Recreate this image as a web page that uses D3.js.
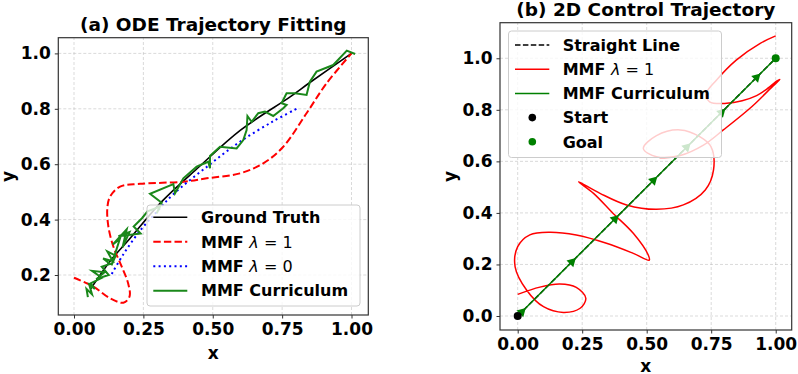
<!DOCTYPE html>
<html><head><meta charset="utf-8">
<script src="https://cdn.jsdelivr.net/npm/d3@7"></script>
<style>
body{margin:0;background:#fff}
text{font-family:"DejaVu Sans",sans-serif;font-weight:bold;fill:#000}
</style>
</head><body><div id="plot"></div><script>
// ---- data, panel (a) ----
var xTicksA = [0, 0.25, 0.5, 0.75, 1.0];
var yTicksA = [0.2, 0.4, 0.6, 0.8, 1.0];
var truthX = [0.06, 0.13, 0.2, 0.316, 0.45, 0.6, 0.78, 0.85, 1.0];
var truthY = [0.15, 0.25, 0.33, 0.465, 0.59, 0.723, 0.844, 0.895, 1.0];
var lam1X = [0, 0.07, 0.13, 0.178, 0.2, 0.195, 0.172, 0.142, 0.124, 0.12, 0.13, 0.166, 0.238, 0.395, 0.478, 0.598, 0.682, 0.754, 0.838, 0.91, 1.0];
var lam1Y = [0.19, 0.158, 0.116, 0.1, 0.122, 0.17, 0.23, 0.302, 0.374, 0.44, 0.483, 0.519, 0.529, 0.537, 0.549, 0.567, 0.603, 0.663, 0.784, 0.892, 1.0];
var lam0X = [0.136, 0.178, 0.238, 0.3, 0.358, 0.478, 0.598, 0.718, 0.802];
var lam0Y = [0.204, 0.275, 0.36, 0.43, 0.492, 0.59, 0.681, 0.755, 0.80];
var currX = [0.05, 0.045, 0.065, 0.055, 0.075, 0.06, 0.1, 0.065, 0.11, 0.08, 0.125, 0.1, 0.13, 0.105, 0.14, 0.12, 0.15, 0.135, 0.165, 0.14, 0.19, 0.175, 0.2, 0.16, 0.24, 0.215, 0.245, 0.265, 0.31, 0.298, 0.316, 0.274, 0.358, 0.364, 0.394, 0.442, 0.484, 0.49, 0.49, 0.526, 0.586, 0.61, 0.622, 0.625, 0.64, 0.664, 0.688, 0.718, 0.754, 0.766, 0.748, 0.766, 0.796, 0.838, 0.85, 0.874, 0.934, 0.983, 1.013];
var currY = [0.12, 0.15, 0.13, 0.165, 0.15, 0.17, 0.19, 0.215, 0.21, 0.185, 0.2, 0.23, 0.24, 0.26, 0.25, 0.285, 0.27, 0.235, 0.33, 0.31, 0.365, 0.3, 0.355, 0.34, 0.35, 0.375, 0.405, 0.43, 0.447, 0.423, 0.461, 0.493, 0.528, 0.495, 0.549, 0.591, 0.609, 0.585, 0.63, 0.663, 0.657, 0.687, 0.723, 0.774, 0.753, 0.784, 0.79, 0.774, 0.802, 0.814, 0.82, 0.856, 0.856, 0.85, 0.898, 0.934, 0.958, 1.01, 0.998];

// ---- data, panel (b) ----
var xTicksB = [0, 0.25, 0.5, 0.75, 1.0];
var yTicksB = [0, 0.2, 0.4, 0.6, 0.8, 1.0];
var straightX = [0, 1];
var straightY = [0, 1];
var ctrlX = [0, 0.086, 0.163, 0.227, 0.264, 0.242, 0.177, 0.10, 0.035, -0.01, 0, 0.047, 0.125, 0.227, 0.344, 0.448, 0.51, 0.506, 0.448, 0.37, 0.294, 0.236, 0.319, 0.422, 0.538, 0.642, 0.727, 0.759, 0.749, 0.707, 0.63, 0.538, 0.487, 0.538, 0.63, 0.72, 0.797, 0.907, 0.99, 1.016, 1.005, 0.96, 0.926, 0.87, 0.81, 0.744, 0.731, 0.77, 0.847, 0.94, 1.0];
var ctrlY = [0.084, 0.112, 0.124, 0.111, 0.069, 0.03, 0.014, 0.036, 0.1, 0.191, 0.269, 0.315, 0.325, 0.314, 0.282, 0.243, 0.217, 0.237, 0.321, 0.398, 0.476, 0.521, 0.476, 0.431, 0.414, 0.431, 0.489, 0.567, 0.657, 0.695, 0.722, 0.70, 0.65, 0.618, 0.623, 0.663, 0.722, 0.812, 0.893, 0.918, 0.912, 0.876, 0.855, 0.835, 0.825, 0.831, 0.863, 0.915, 0.993, 1.058, 1.087];
var arrowT = [0.016, 0.21, 0.377, 0.526, 0.655, 0.79, 0.926];
var startPt = [0, 0];
var goalPt = [1, 1];

var svg = d3.select('#plot').append('svg')
	.attr('width', 798)
	.attr('height', 374);

function zip(xs, ys){ return xs.map(function(v,i){ return [v, ys[i]]; }); }

function drawFrame(x, y, xt, yt, xfmt, yfmt, title, titleY, xlabOff){
	var r = x.range(), ry = y.range();
	var g = svg.append('g');
	// grid
	xt.forEach(function(t){
		g.append('line').attr('x1',x(t)).attr('x2',x(t)).attr('y1',ry[0]).attr('y2',ry[1])
			.attr('stroke','#b0b0b0').attr('stroke-opacity',0.6).attr('stroke-width',0.8).attr('stroke-dasharray','3,2');
	});
	yt.forEach(function(t){
		g.append('line').attr('y1',y(t)).attr('y2',y(t)).attr('x1',r[0]).attr('x2',r[1])
			.attr('stroke','#b0b0b0').attr('stroke-opacity',0.6).attr('stroke-width',0.8).attr('stroke-dasharray','3,2');
	});
	var xa = svg.append('g').attr('transform','translate(0,'+ry[0]+')')
		.call(d3.axisBottom(x).tickValues(xt).tickFormat(d3.format(xfmt)).tickSizeOuter(0).tickSize(3.5).tickPadding(4));
	var ya = svg.append('g').attr('transform','translate('+r[0]+',0)')
		.call(d3.axisLeft(y).tickValues(yt).tickFormat(d3.format(yfmt)).tickSizeOuter(0).tickSize(3.5).tickPadding(4));
	[xa, ya].forEach(function(a){
		a.select('.domain').remove();
		a.selectAll('line').attr('stroke','#333');
		a.selectAll('text').attr('font-size',17).attr('font-weight','bold').attr('font-family','DejaVu Sans').attr('fill','#000');
	});
	var mx = (r[0]+r[1])/2, my = (ry[0]+ry[1])/2;
	svg.append('text').attr('x',mx).attr('y',titleY).attr('text-anchor','middle').attr('font-size',18.5).text(title);
	svg.append('text').attr('x',mx).attr('y',ry[0]+xlabOff).attr('text-anchor','middle').attr('font-size',17).text('x');
	return {mx:mx, my:my};
}

function border(x, y){
	var r = x.range(), ry = y.range();
	svg.append('rect').attr('x',r[0]).attr('y',ry[1]).attr('width',r[1]-r[0]).attr('height',ry[0]-ry[1])
		.attr('fill','none').attr('stroke','#333').attr('stroke-width',1.2);
}

function legendLabel(t, d){
	if(d.lam === undefined){ t.text(d.name); return; }
	t.append('tspan').text('MMF ');
	t.append('tspan').attr('font-style','italic').attr('font-weight','normal').text('\u03bb');
	t.append('tspan').attr('font-weight','normal').text(' = '+d.lam);
}

// ---------- panel (a) ----------
var xA = d3.scaleLinear().domain([-0.0566, 1.0605]).range([58.3, 368.3]);
var yA = d3.scaleLinear().domain([0.0556, 1.0567]).range([315, 37.7]);
var fA = drawFrame(xA, yA, xTicksA, yTicksA, '.2f', '.1f', '(a) ODE Trajectory Fitting', 31, 43.5);
svg.append('text').attr('transform','translate(14,'+fA.my+') rotate(-90)').attr('text-anchor','middle').attr('font-size',17).text('y');

var lineA = d3.line().x(function(d){return xA(d[0]);}).y(function(d){return yA(d[1]);});
var smoothA = d3.line().curve(d3.curveCatmullRom.alpha(0.5)).x(function(d){return xA(d[0]);}).y(function(d){return yA(d[1]);});

svg.append('path').datum(zip(truthX, truthY)).attr('d', smoothA)
	.attr('fill','none').attr('stroke','#000').attr('stroke-width',1.6);
svg.append('path').datum(zip(lam1X, lam1Y)).attr('d', smoothA)
	.attr('fill','none').attr('stroke','#ff0000').attr('stroke-width',2).attr('stroke-dasharray','7.4,3.2');
svg.append('path').datum(zip(lam0X, lam0Y)).attr('d', smoothA)
	.attr('fill','none').attr('stroke','#0000ff').attr('stroke-width',2).attr('stroke-dasharray','2,3.3');
svg.append('path').datum(zip(currX, currY)).attr('d', lineA)
	.attr('fill','none').attr('stroke','#1a881a').attr('stroke-width',2).attr('stroke-linejoin','miter');
border(xA, yA);

var legA = [
	{name:'Ground Truth', color:'#000', dash:null, w:1.6},
	{name:'MMF', lam:1, color:'#ff0000', dash:'7.4,3.2', w:2},
	{name:'MMF', lam:0, color:'#0000ff', dash:'2,3.3', w:2},
	{name:'MMF Curriculum', color:'#1a881a', dash:null, w:2}
];
svg.append('rect').attr('x',147).attr('y',205).attr('width',213).attr('height',101).attr('rx',3)
	.attr('fill','#fff').attr('fill-opacity',0.8).attr('stroke','#ccc').attr('stroke-width',1);
legA.forEach(function(d,i){
	var cy = 217.3 + i*24.45;
	svg.append('line').attr('x1',153.3).attr('x2',187.3).attr('y1',cy).attr('y2',cy)
		.attr('stroke',d.color).attr('stroke-width',d.w).attr('stroke-dasharray',d.dash);
	var t = svg.append('text').attr('x',201).attr('y',cy+5.8).attr('font-size',16);
	legendLabel(t, d);
});

// ---------- panel (b) ----------
var xB = d3.scaleLinear().domain([-0.0686, 1.062]).range([500, 791.7]);
var yB = d3.scaleLinear().domain([-0.0543, 1.138]).range([330, 22.7]);
var fB = drawFrame(xB, yB, xTicksB, yTicksB, '.2f', '.1f', '(b) 2D Control Trajectory', 16, 41.5);
svg.append('text').attr('transform','translate(456,'+fB.my+') rotate(-90)').attr('text-anchor','middle').attr('font-size',17).text('y');

var lineB = d3.line().x(function(d){return xB(d[0]);}).y(function(d){return yB(d[1]);});
var smoothB = d3.line().curve(d3.curveCatmullRom.alpha(0.5)).x(function(d){return xB(d[0]);}).y(function(d){return yB(d[1]);});

svg.append('path').datum(zip(straightX, straightY)).attr('d', lineB)
	.attr('fill','none').attr('stroke','#000').attr('stroke-width',1.5).attr('stroke-dasharray','5.5,2.4');
svg.append('path').datum(zip(ctrlX, ctrlY)).attr('d', smoothB)
	.attr('fill','none').attr('stroke','#ff0000').attr('stroke-width',1.5);
svg.append('path').datum(zip(straightX, straightY)).attr('d', lineB)
	.attr('fill','none').attr('stroke','#008000').attr('stroke-width',1.5);
var ang = Math.atan2(yB(1)-yB(0), xB(1)-xB(0))*180/Math.PI + 90;
arrowT.forEach(function(t){
	svg.append('path').attr('d', d3.symbol().type(d3.symbolTriangle).size(40)())
		.attr('transform','translate('+xB(t)+','+yB(t)+') rotate('+ang+')')
		.attr('fill','#008000');
});
svg.append('circle').attr('cx',xB(startPt[0])).attr('cy',yB(startPt[1])).attr('r',4).attr('fill','#000');
svg.append('circle').attr('cx',xB(goalPt[0])).attr('cy',yB(goalPt[1])).attr('r',4).attr('fill','#008000');
border(xB, yB);

var legB = [
	{name:'Straight Line', kind:'line', color:'#000', dash:'5.5,2.4'},
	{name:'MMF', lam:1, kind:'line', color:'#ff0000', dash:null},
	{name:'MMF Curriculum', kind:'line', color:'#008000', dash:null},
	{name:'Start', kind:'dot', color:'#000'},
	{name:'Goal', kind:'dot', color:'#008000'}
];
svg.append('rect').attr('x',508.5).attr('y',31).attr('width',213).attr('height',126.5).attr('rx',3)
	.attr('fill','#fff').attr('fill-opacity',0.8).attr('stroke','#ccc').attr('stroke-width',1);
legB.forEach(function(d,i){
	var cy = 45 + i*24.2;
	if(d.kind === 'line'){
		svg.append('line').attr('x1',515).attr('x2',549.3).attr('y1',cy).attr('y2',cy)
			.attr('stroke',d.color).attr('stroke-width',1.5).attr('stroke-dasharray',d.dash);
	} else {
		svg.append('circle').attr('cx',532.3).attr('cy',cy).attr('r',3.8).attr('fill',d.color);
	}
	var t = svg.append('text').attr('x',562.7).attr('y',cy+5.8).attr('font-size',16);
	legendLabel(t, d);
});
</script></body></html>
